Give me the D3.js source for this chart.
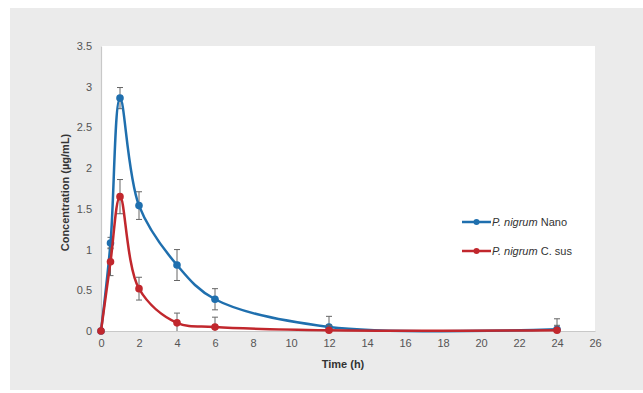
<!DOCTYPE html>
<html>
<head>
<meta charset="utf-8">
<script src="https://cdn.jsdelivr.net/npm/d3@7"></script>
<style>
  body { margin: 0; background: #fff; }
  svg text { font-family: "Liberation Sans", Arial, sans-serif; }
</style>
</head>
<body>
<div id="chart"></div>
<script>
// Plasma concentration of P. nigrum nano vs coarse suspension over 24 h.
const times = [0, 0.5, 1, 2, 4, 6, 12, 24];
const nanoMean = [0, 1.08, 2.86, 1.54, 0.81, 0.39, 0.05, 0.02];
const nanoErr = [0, 0.07, 0.13, 0.17, 0.19, 0.13, 0.13, 0.13];
const susMean = [0, 0.85, 1.65, 0.52, 0.10, 0.05, 0.01, 0.01];
const susErr = [0, 0.17, 0.21, 0.14, 0.12, 0.12, 0.06, 0.06];
const xTicks = d3.range(0, 27, 2);
const yTicks = [0, 0.5, 1, 1.5, 2, 2.5, 3, 3.5];

const series = [
  { name: "Nano", color: "#1f6fae", mean: nanoMean, err: nanoErr },
  { name: "C. sus", color: "#c1272d", mean: susMean, err: susErr },
];

const width = 643, height = 393;
const m = { top: 46, right: 48, bottom: 62, left: 101 };
const iw = width - m.left - m.right;
const ih = height - m.top - m.bottom;

const svg = d3.select("#chart").append("svg")
  .attr("width", width).attr("height", height).attr("viewBox", `0 0 ${width} ${height}`);

svg.append("rect").attr("x", 10).attr("y", 8).attr("width", width - 10).attr("height", 382)
  .attr("fill", "#ebebeb");

const g = svg.append("g").attr("transform", `translate(${m.left},${m.top})`);
const x = d3.scaleLinear().domain([0, 26]).range([0, iw]);
const y = d3.scaleLinear().domain([0, 3.5]).range([ih, 0]);

g.append("rect").attr("x", 0).attr("y", 0).attr("width", iw).attr("height", ih).attr("fill", "#fff");

const xAxis = g.append("g").attr("transform", `translate(0,${ih})`)
  .call(d3.axisBottom(x).tickValues(xTicks).tickSize(0).tickPadding(8));
const yAxis = g.append("g")
  .call(d3.axisLeft(y).tickValues(yTicks).tickSize(0).tickPadding(9).tickFormat(d3.format("")));
[xAxis, yAxis].forEach((a) => {
  a.select(".domain").attr("stroke", "#c8c8c8").attr("stroke-width", 1.2);
  a.selectAll("text").attr("fill", "#555").attr("font-size", 11);
});

g.append("text").attr("x", iw / 2 - 5).attr("y", ih + 37).attr("text-anchor", "middle")
  .attr("font-size", 11).attr("font-weight", "bold").attr("fill", "#333").text("Time (h)");
g.append("text").attr("transform", `translate(-32,${ih / 2 + 4}) rotate(-90)`)
  .attr("text-anchor", "middle").attr("font-size", 11).attr("font-weight", "bold").attr("fill", "#333")
  .text("Concentration (µg/mL)");

const line = d3.line().x((d) => x(d[0])).y((d) => y(d[1])).curve(d3.curveCatmullRom.alpha(0.5));

series.forEach((s) => {
  const pts = times.map((t, i) => [t, s.mean[i], s.err[i]]);
  const eb = g.append("g").attr("stroke", "#666").attr("stroke-width", 1);
  pts.filter((p) => p[2] > 0).forEach((p) => {
    const cx = x(p[0]);
    eb.append("line").attr("x1", cx).attr("x2", cx).attr("y1", y(p[1] + p[2])).attr("y2", y(Math.max(0, p[1] - p[2])));
    eb.append("line").attr("x1", cx - 3).attr("x2", cx + 3).attr("y1", y(p[1] + p[2])).attr("y2", y(p[1] + p[2]));
    if (p[1] - p[2] > 0)
      eb.append("line").attr("x1", cx - 3).attr("x2", cx + 3).attr("y1", y(p[1] - p[2])).attr("y2", y(p[1] - p[2]));
  });
  g.append("path").datum(pts).attr("fill", "none").attr("stroke", s.color).attr("stroke-width", 2.5).attr("d", line);
  g.append("g").selectAll("circle").data(pts).join("circle")
    .attr("cx", (p) => x(p[0])).attr("cy", (p) => y(p[1])).attr("r", 3.8).attr("fill", s.color);
});

const legend = svg.append("g").attr("transform", "translate(462,222)");
series.forEach((s, i) => {
  const row = legend.append("g").attr("transform", `translate(0,${i * 29})`);
  row.append("line").attr("x1", 0).attr("x2", 29).attr("stroke", s.color).attr("stroke-width", 2.5);
  row.append("circle").attr("cx", 14.5).attr("r", 3).attr("fill", s.color);
  const t = row.append("text").attr("x", 30).attr("y", 4).attr("font-size", 11).attr("fill", "#333");
  t.append("tspan").attr("font-style", "italic").text("P. nigrum");
  t.append("tspan").text(" " + s.name);
});
</script>
</body>
</html>
